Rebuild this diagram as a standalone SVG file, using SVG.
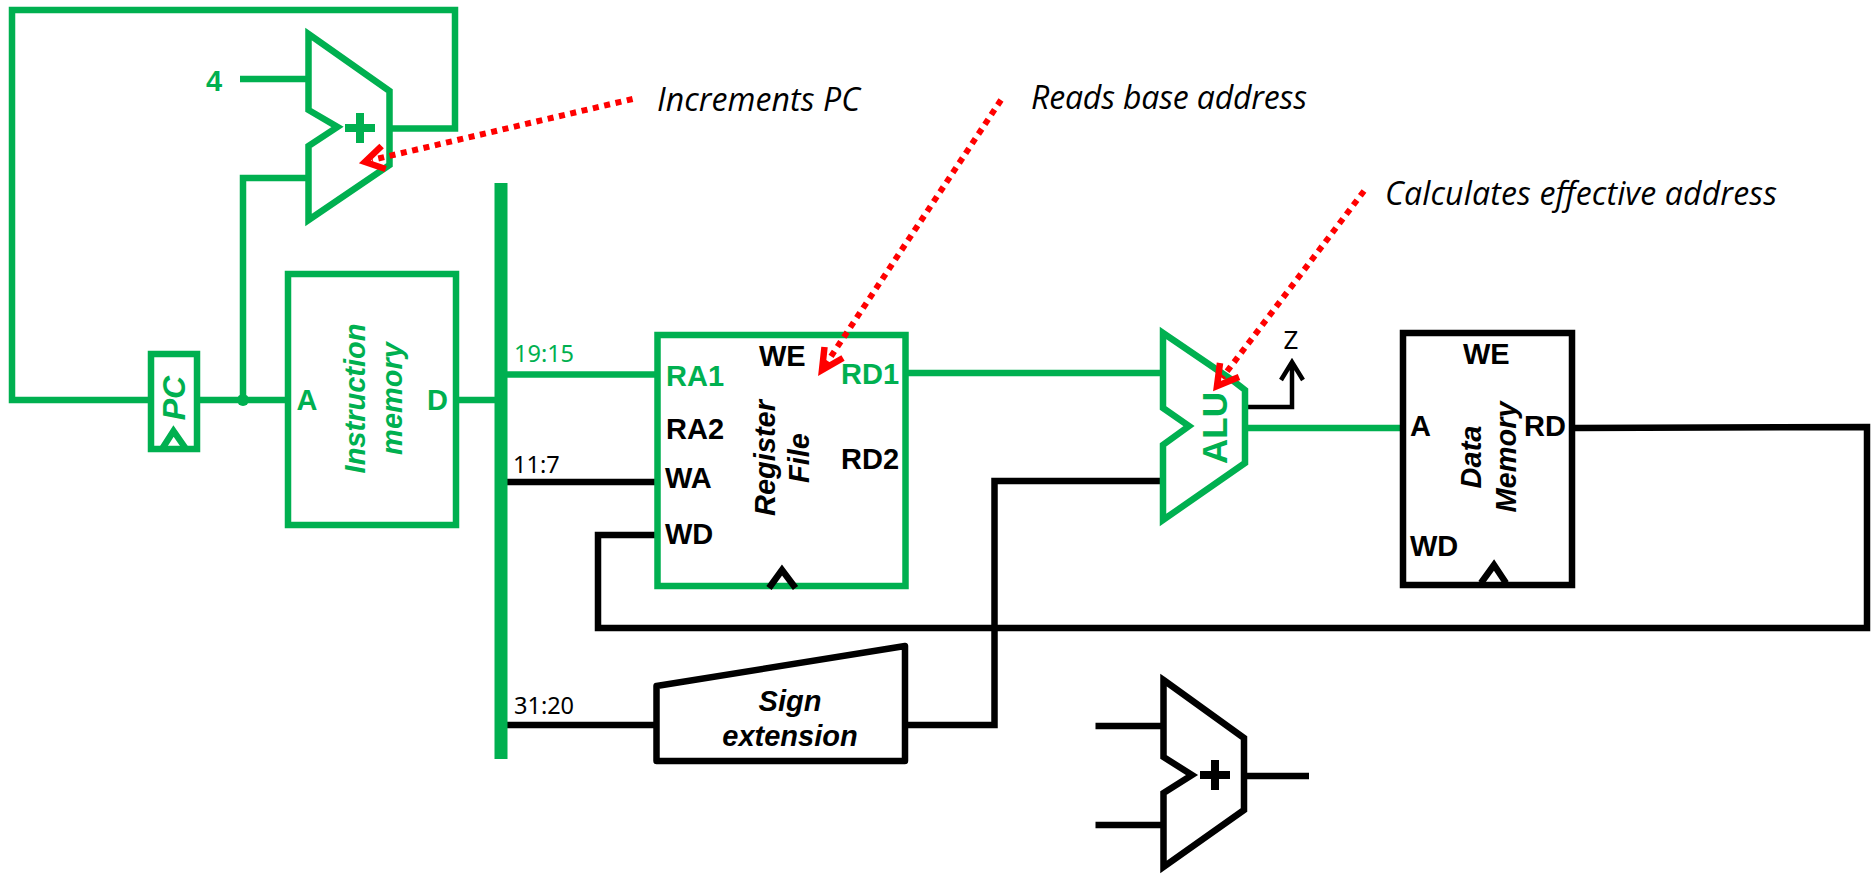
<svg xmlns="http://www.w3.org/2000/svg" width="1876" height="874" viewBox="0 0 1876 874">
<style>
.g{stroke:#00b050;fill:none;stroke-width:6.5}
.k{stroke:#000;fill:none;stroke-width:6.5}
.t{stroke-width:4.5}
.p{stroke-width:8}
.r{stroke:#f00;fill:none;stroke-width:6;stroke-dasharray:6 5.6}
.h{stroke:#f00;fill:none;stroke-width:6.5}
text{font-family:"Liberation Sans",Arial,sans-serif;font-weight:700;font-size:29px}
.tg{fill:#00b050}
.tk{fill:#000}
.i{font-style:italic;font-size:29px;text-anchor:middle}
.n{font-family:"Noto Sans",sans-serif;font-weight:400;font-size:23.5px}
.c{font-family:"Open Sans",sans-serif;font-weight:400;font-style:italic;font-size:32px;fill:#000}
</style>
<defs>
<path id="adder" d="M0 0L81 57V131L0 186V112L29 93L0 76Z"/>
</defs>
<g id="connectors">
<path class="g" d="M148 400H12V10H455V128.500H392"/>
<path class="g" d="M240 79H308"/>
<path class="g" d="M308 178H243V400"/>
<path class="g" d="M197 400H288"/>
<circle cx="243" cy="400" r="6" fill="#00b050"/>
<path class="g" d="M456 400H495"/>
<path class="g" d="M507 374.500H657"/>
<path class="k" d="M507 482H655"/>
<path class="k" d="M507 725H655"/>
<path class="g" d="M908 373H1160"/>
<path class="k" d="M908 725H994.500V481H1160"/>
<path class="k t" d="M1247 407H1292V362M1281 380L1292 362L1303 380"/>
<path class="g" d="M1247 428H1400"/>
<path class="k" d="M1575 428L1867 427V628H598V535H657"/>
<path class="k" d="M1095.500 726H1163M1095.500 825H1163M1247 776H1309"/>
</g>
<g id="pc-adder">
<use href="#adder" transform="translate(308.500 34)" class="g"/>
<path class="g p" d="M345 128H375M360 113V143"/>
<text class="tg" x="214" y="91" text-anchor="middle">4</text>
</g>
<g id="pc">
<rect class="g" x="151" y="354" width="46" height="95"/>
<path class="g" d="M162 449L173.500 431L186 449"/>
<text class="tg" text-anchor="middle" transform="translate(185 398) rotate(-90)" style="font-size:32px;font-style:italic">PC</text>
</g>
<g id="instruction-memory">
<rect class="g" x="288" y="274" width="168" height="251"/>
<text class="tg" x="307" y="410" text-anchor="middle">A</text>
<text class="tg" x="437.500" y="410" text-anchor="middle">D</text>
<text class="tg i" transform="translate(365 398.500) rotate(-90)">Instruction</text>
<text class="tg i" transform="translate(402 398.500) rotate(-90)">memory</text>
</g>
<g id="bus"><rect x="494.500" y="183" width="13" height="576" fill="#00b050"/>
<text class="n tg" x="514" y="362">19:15</text>
<text class="n tk" x="513" y="472.500">11:7</text>
<text class="n tk" x="514" y="714">31:20</text>
</g>
<g id="register-file">
<rect class="g" x="657.500" y="335" width="248" height="251"/>
<path class="k" d="M769 588L782 570L795.500 588"/>
<text class="tg" x="666" y="386">RA1</text>
<text class="tk" x="666" y="439">RA2</text>
<text class="tk" x="665" y="488">WA</text>
<text class="tk" x="665" y="544">WD</text>
<text class="tk" x="759" y="366">WE</text>
<text class="tg" x="841" y="384">RD1</text>
<text class="tk" x="841" y="469">RD2</text>
<text class="tk i" transform="translate(775 458) rotate(-90)">Register</text>
<text class="tk i" transform="translate(809 458) rotate(-90)">File</text>
</g>
<g id="alu">
<path class="g" d="M1163 333L1232 380L1245 390V463L1163 520V445L1189 426L1163 408Z"/>
<text class="tg" text-anchor="middle" transform="translate(1227 428) rotate(-90)" style="font-size:35px">ALU</text>
<text class="n tk" x="1291" y="349" text-anchor="middle" style="font-size:26px">Z</text>
</g>
<g id="data-memory">
<rect class="k" x="1403" y="333" width="169" height="252"/>
<path class="k" d="M1481 583L1494 565L1506 583"/>
<text class="tk" x="1463" y="364">WE</text>
<text class="tk" x="1410" y="436">A</text>
<text class="tk" x="1524" y="436">RD</text>
<text class="tk" x="1410" y="556">WD</text>
<text class="tk i" transform="translate(1481 457) rotate(-90)">Data</text>
<text class="tk i" transform="translate(1516 457) rotate(-90)">Memory</text>
</g>
<g id="sign-extension">
<path class="k" d="M656.500 686L905 646V761H656.500Z" stroke-linejoin="round"/>
<text class="tk i" x="790" y="711">Sign</text>
<text class="tk i" x="790" y="746">extension</text>
</g>
<g id="adder-2">
<path class="k" d="M1163.500 680L1244 738V810L1163.500 867V793L1192 775L1163.500 757Z"/>
<path class="k p" d="M1200 775H1230M1215 760V790"/>
</g>
<g id="callouts">
<path class="r" d="M632.600 99L372 160"/>
<path class="h" d="M381.600 146L365 162L385.700 169"/>
<path class="r" d="M1001 100L826 364"/>
<path class="h" d="M824.500 347L822 370L843 358"/>
<path class="r" d="M1364 191L1222 378"/>
<path class="h" d="M1220 363L1217 386L1239 377"/>
<text class="c" x="657" y="111" textLength="203">Increments PC</text>
<text class="c" x="1031" y="109" textLength="276">Reads base address</text>
<text class="c" x="1385" y="205" textLength="392">Calculates effective address</text>
</g>
</svg>
